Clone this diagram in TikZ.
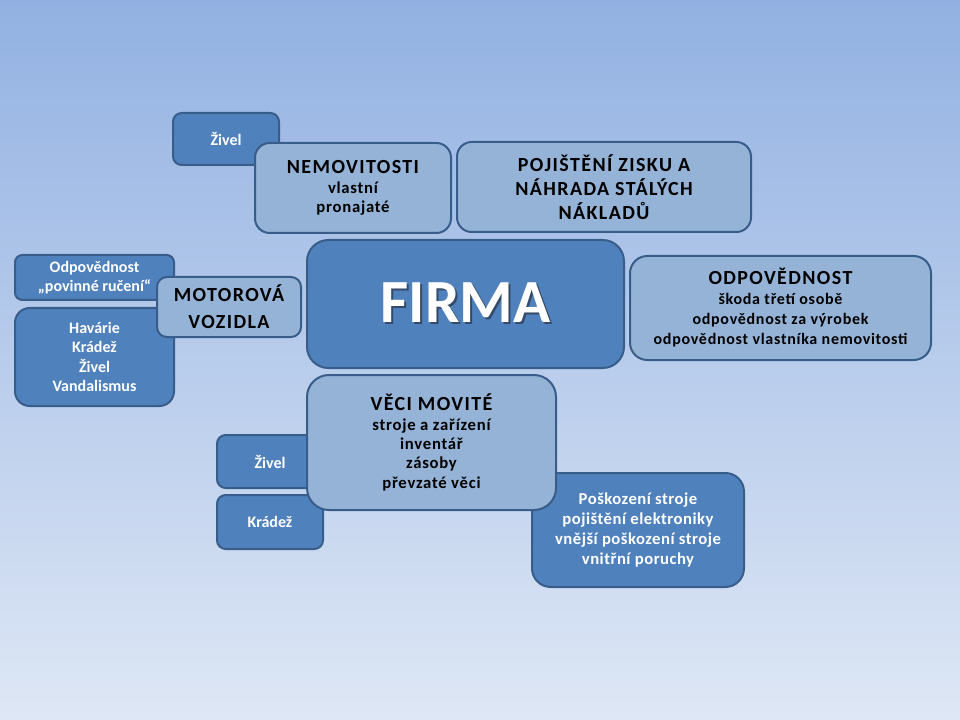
\documentclass[tikz,border=0pt]{standalone}
\usepackage{fontspec}
\setmainfont{Carlito}
\usetikzlibrary{shadings}

\definecolor{bgtop}{RGB}{146,177,226}
\definecolor{bgbot}{RGB}{222,231,245}
\definecolor{darkfill}{RGB}{79,129,189}
\definecolor{lightfill}{RGB}{149,179,215}
\definecolor{edgeblue}{RGB}{56,93,138}
\definecolor{shadowblue}{RGB}{52,74,104}

\newcommand{\bodytext}{\bfseries\fontsize{12.5}{14.5}\selectfont\addfontfeatures{LetterSpace=4.5}}
\newcommand{\headtext}{\bfseries\fontsize{15}{18}\selectfont\addfontfeatures{LetterSpace=7}}
\newcommand{\hd}[1]{{\headtext #1}}
\newcommand{\shadowed}[1]{\makebox[0pt][l]{\hspace{1.5pt}\raisebox{-1.5pt}{\color{shadowblue}#1}}#1}

\begin{document}
\begin{tikzpicture}[x = 0.75pt, y = -0.75pt, % pixel grid, y going down
                line width = 1.5pt % box border
            ]

            \tikzstyle{box}=[draw = edgeblue, rectangle, align = center,
            inner sep = 0pt, font = \bfseries\fontsize{12}{14.5}\selectfont]
            \tikzstyle{darkbox}=[box, fill = darkfill, text = white]
            \tikzstyle{lightbox}=[box, fill = lightfill, text = black, font = \bodytext]

            % background
            \fill[top color = bgtop, bottom color = bgbot] (0,0) rectangle (960,720);

            % nemovitosti
            \node (zivel1) [darkbox, minimum width = 79.5pt, minimum height = 39pt,
                rounded corners = 6.5pt] at (226,139) {Živel};
            \node (nemo) [lightbox, minimum width = 147pt, minimum height = 67.5pt,
                rounded corners = 11pt] at (353,188) {\hd{NEMOVITOSTI}\\vlastní\\pronajaté};
            \node (zisk) [lightbox, minimum width = 220.5pt, minimum height = 67.5pt,
                rounded corners = 11pt, font = \headtext]
                at (604,187) {POJIŠTĚNÍ ZISKU A\\NÁHRADA STÁLÝCH\\NÁKLADŮ};

            % motorova vozidla
            \node (povinne) [darkbox, minimum width = 119.25pt, minimum height = 33.75pt,
                rounded corners = 5.5pt] at (94.5,277.5) {Odpovědnost\\„povinné ručení“};
            \node (havarie) [darkbox, minimum width = 119.25pt, minimum height = 73.5pt,
                rounded corners = 11pt] at (94.5,357) {Havárie\\Krádež\\Živel\\Vandalismus};
            \node (motor) [lightbox, minimum width = 108pt, minimum height = 45pt,
                rounded corners = 7.5pt, font = \headtext\fontsize{15}{20}\selectfont]
                at (229,307) {MOTOROVÁ\\VOZIDLA};

            % firma
            \node (firma) [darkbox, minimum width = 237.75pt, minimum height = 96pt,
                rounded corners = 16pt, font = \bfseries\fontsize{46}{55}\selectfont]
                at (465.5,304) {\shadowed{FIRMA}};
            \node (odpo) [lightbox, minimum width = 225.75pt, minimum height = 78pt,
                rounded corners = 13pt, font = \bodytext\fontsize{12}{15}\selectfont]
                at (780.5,308) {\hd{ODPOVĚDNOST}\\škoda třetí osobě\\odpovědnost za výrobek\\odpovědnost vlastníka nemovitosti};

            % veci movite
            \node (zivel2) [darkbox, minimum width = 79.5pt, minimum height = 39.75pt,
                rounded corners = 6.5pt] at (270,461.5) {Živel};
            \node (kradez) [darkbox, minimum width = 79.5pt, minimum height = 40.5pt,
                rounded corners = 6.5pt] at (270,522) {Krádež};
            \node (stroje) [darkbox, minimum width = 159pt, minimum height = 85.5pt,
                rounded corners = 14pt,
                font = \bfseries\fontsize{12.5}{15}\selectfont\addfontfeatures{LetterSpace=3}]
                at (638,530) {Poškození stroje\\pojištění elektroniky\\vnější poškození stroje\\vnitřní poruchy};
            \node (veci) [lightbox, minimum width = 186.75pt, minimum height = 101.25pt,
                rounded corners = 16.5pt] at (431.5,442.5)
                {\hd{VĚCI MOVITÉ}\\stroje a zařízení\\inventář\\zásoby\\převzaté věci};
        \end{tikzpicture}
\end{document}
